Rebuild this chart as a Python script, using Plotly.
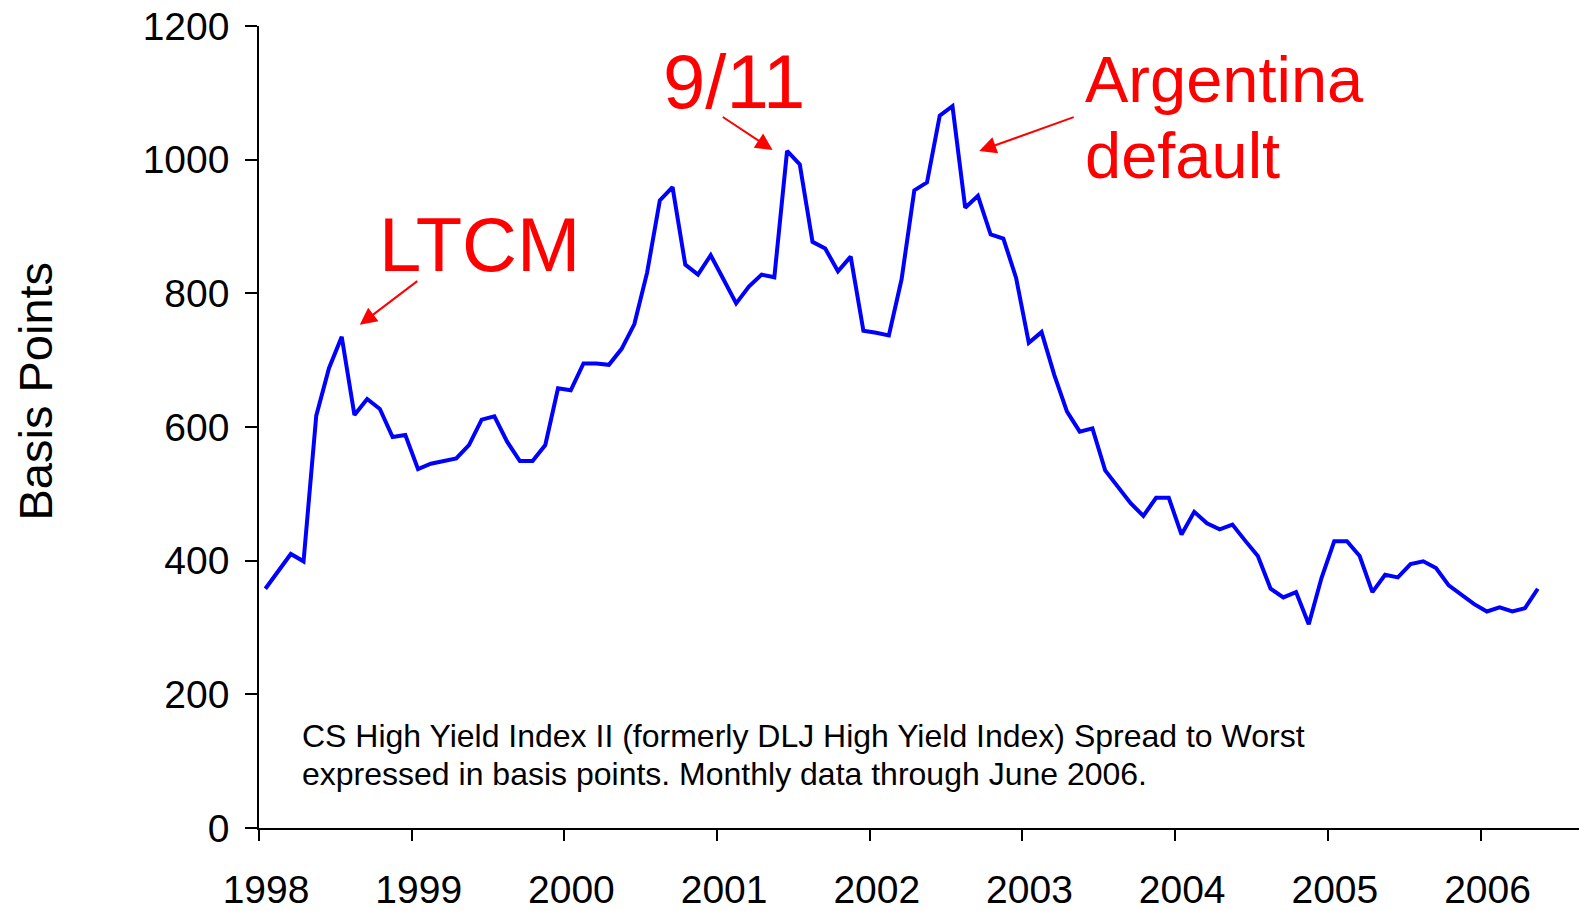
import plotly.graph_objects as go

# ---- data ----
months = [f"{1998 + i // 12}-{i % 12 + 1:02d}" for i in range(101)]
spread = [358, 384, 410, 399, 617, 688, 735, 618, 642, 627, 585, 588,
          537, 545, 549, 553, 573, 611, 616, 578, 549, 549, 573, 658,
          655, 695, 695, 693, 717, 754, 831, 939, 959, 843, 828, 857,
          821, 785, 810, 828, 824, 1013, 993, 877, 867, 833, 855, 744,
          741, 737, 821, 954, 966, 1066, 1080, 928, 946, 888, 882, 823,
          726, 742, 678, 623, 593, 598, 535, 510, 486, 467, 494, 494,
          439, 473, 456, 447, 454, 430, 407, 358, 345, 353, 305, 374,
          429, 429, 407, 353, 379, 375, 395, 399, 389, 363, 349, 335,
          324, 330, 324, 329, 358]
year_ticks = [1998, 1999, 2000, 2001, 2002, 2003, 2004, 2005, 2006]
year_labels = [str(y) for y in year_ticks]
y_ticks = [0, 200, 400, 600, 800, 1000, 1200]

x_vals = [int(m[:4]) + (int(m[5:]) - 0.5) / 12 for m in months]

# ---- geometry (pixels) ----
FW, FH = 1579, 911
L, R = 258.5, 1579.0
T, B = 26.0, 832.5
W, H = R - L, B - T
PX_PER_YEAR = 152.75
FONT = "Liberation Sans, Arial, sans-serif"


def xp(px):
    return (px - L) / W


def yp(py):
    return (B - py) / H


fig = go.Figure()
fig.add_trace(go.Scatter(x=x_vals, y=spread, mode="lines",
                         line=dict(color="#0000FF", width=4),
                         hoverinfo="x+y", showlegend=False))

fig.update_layout(
    width=FW, height=FH, autosize=False,
    margin=dict(l=L, r=FW - R, t=T, b=FH - B, pad=0),
    paper_bgcolor="white", plot_bgcolor="white",
    font=dict(family=FONT, color="black"),
    xaxis=dict(range=[1998, 1998 + W / PX_PER_YEAR], tickvals=year_ticks,
               ticktext=year_labels, ticks="outside", ticklen=11,
               tickwidth=1.5, tickcolor="black", showline=True,
               linecolor="black", linewidth=1.5, showgrid=False,
               zeroline=False, tickfont=dict(size=39, family=FONT),
               ticklabelshift=7, ticklabelstandoff=15),
    yaxis=dict(range=[0, 1200], tickvals=y_ticks, ticks="outside",
               ticklen=12, tickwidth=1.5, tickcolor="black",
               showline=True, linecolor="black", linewidth=1.5,
               showgrid=False, zeroline=False,
               tickfont=dict(size=39, family=FONT),
               ticklabelstandoff=8),
)

ann = []
# y-axis title
ann.append(dict(text="Basis Points", x=xp(35), y=yp(393), xref="paper",
                yref="paper", textangle=-90, showarrow=False,
                xanchor="center", yanchor="middle",
                font=dict(size=47, family=FONT, color="black")))
# note text
ann.append(dict(text="CS High Yield Index II (formerly DLJ High Yield Index) Spread to Worst",
                x=xp(300), y=yp(740), xref="paper", yref="paper",
                showarrow=False, xanchor="left", yanchor="middle",
                font=dict(size=32, family=FONT, color="black")))
ann.append(dict(text="expressed in basis points. Monthly data through June 2006.",
                x=xp(300), y=yp(778), xref="paper", yref="paper",
                showarrow=False, xanchor="left", yanchor="middle",
                font=dict(size=32, family=FONT, color="black")))
# red labels
red = "#FF0000"
ann.append(dict(text="LTCM", x=xp(479.5), y=yp(246), xref="paper", yref="paper",
                showarrow=False, xanchor="center", yanchor="middle",
                font=dict(size=76, family=FONT, color=red)))
ann.append(dict(text="9/11", x=xp(733.5), y=yp(82), xref="paper", yref="paper",
                showarrow=False, xanchor="center", yanchor="middle",
                font=dict(size=76, family=FONT, color=red)))
ann.append(dict(text="Argentina", x=xp(1083), y=yp(80), xref="paper", yref="paper",
                showarrow=False, xanchor="left", yanchor="middle",
                font=dict(size=65, family=FONT, color=red)))
ann.append(dict(text="default", x=xp(1083), y=yp(156), xref="paper", yref="paper",
                showarrow=False, xanchor="left", yanchor="middle",
                font=dict(size=65, family=FONT, color=red)))
# arrows: (tip_x, tip_y, tail_x, tail_y) in pixels
arrows = [(359.3, 326.5, 418.3, 281.7),
          (772.3, 150.7, 721.0, 116.7),
          (979.0, 151.7, 1075.0, 117.3)]
for tx, ty, sx, sy in arrows:
    ann.append(dict(text="", x=xp(tx), y=yp(ty), xref="paper", yref="paper",
                    showarrow=True, ax=sx - tx, ay=sy - ty, arrowhead=2,
                    arrowsize=1.7, arrowwidth=2, arrowcolor=red, standoff=0))
fig.update_layout(annotations=ann)

fig.write_html("out.html", config={"displayModeBar": False},
               post_script="document.body.style.margin='0';")
